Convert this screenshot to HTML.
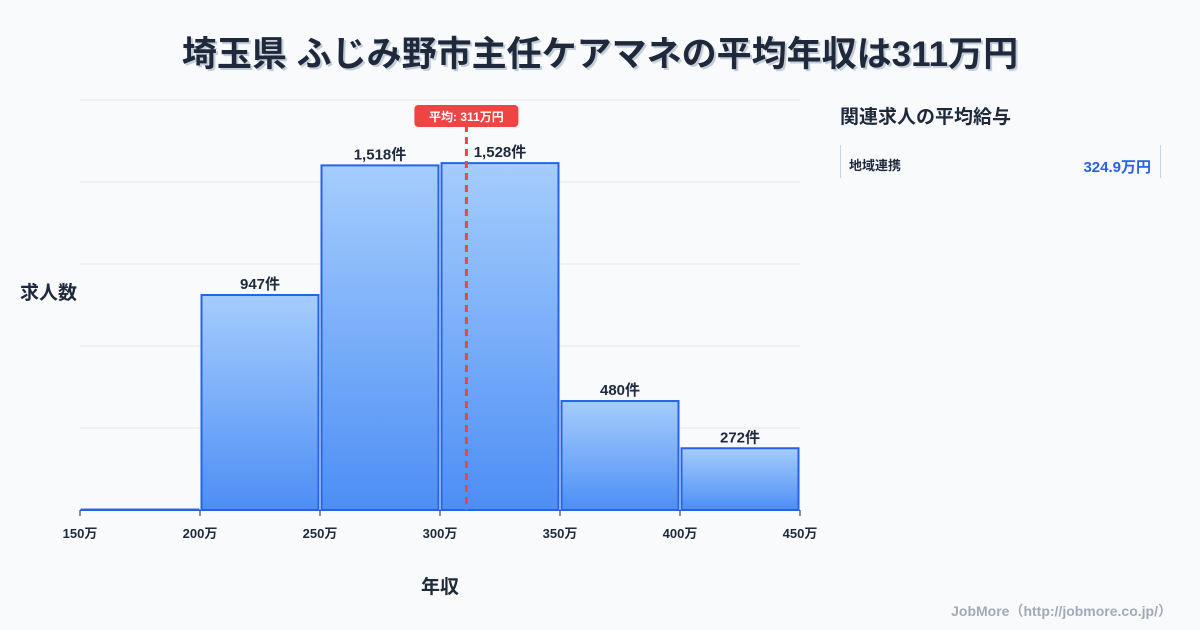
<!DOCTYPE html>
<html><head><meta charset="utf-8"><style>
body{margin:0;background:#f8fafc;width:1200px;height:630px;overflow:hidden;font-family:"Liberation Sans","Noto Sans CJK JP",sans-serif;}
svg{position:absolute;left:0;top:0}
</style></head><body>
<svg width="1200" height="630">
<defs><linearGradient id="g" x1="0" y1="0" x2="0" y2="1"><stop offset="0" stop-color="#a5cdfd"/><stop offset="1" stop-color="#4d8ef5"/></linearGradient></defs>
<text x="600" y="66" text-anchor="middle" font-size="35" font-weight="bold" fill="#c5cdd8" transform="translate(2,2)">埼玉県 ふじみ野市主任ケアマネの平均年収は311万円</text>
<text x="600" y="66" text-anchor="middle" font-size="35" font-weight="bold" fill="#1e293b">埼玉県 ふじみ野市主任ケアマネの平均年収は311万円</text>
<g id="grid"></g><g id="bars"></g><g id="axis"></g>
<text x="20" y="299" font-size="19" font-weight="bold" fill="#1e293b">求人数</text>
<text x="440" y="593" text-anchor="middle" font-size="19" font-weight="bold" fill="#1e293b">年収</text>
<text x="840" y="123" font-size="19" font-weight="bold" fill="#1e293b">関連求人の平均給与</text>
<line x1="840.5" y1="145" x2="840.5" y2="178" stroke="#cbd5e1"/>
<line x1="1160.5" y1="145" x2="1160.5" y2="178" stroke="#cbd5e1"/>
<text x="849" y="170" font-size="13" font-weight="bold" fill="#1e293b">地域連携</text>
<text x="1151" y="172" text-anchor="end" font-size="15" font-weight="bold" fill="#2563eb">324.9万円</text>
<text x="1172" y="616" text-anchor="end" font-size="14" font-weight="bold" fill="#a3aab5">JobMore（http://jobmore.co.jp/）</text>
</svg>
<script>
const categories=[150,200,250,300,350,400];
const counts=[2,947,1518,1528,480,272];
const ticks=[150,200,250,300,350,400,450];
const avg=311;
const NS="http://www.w3.org/2000/svg";
const x0=80,x1=800,yb=510,yt=100,xmin=150,xmax=450,ymax=1806;
const X=v=>x0+(v-xmin)/(xmax-xmin)*(x1-x0);
const Y=v=>yb-v/ymax*(yb-yt);
function mk(t,a,p){const e=document.createElementNS(NS,t);for(const k in a)e.setAttribute(k,a[k]);p.appendChild(e);return e;}
const grid=document.getElementById('grid'),bars=document.getElementById('bars'),axis=document.getElementById('axis');
for(let i=0;i<=5;i++){const y=yb-i*82;const l=mk('line',{x1:x0,x2:x1,y1:y,y2:y,stroke:'#e2e8f0'},grid);

}
categories.forEach((c,i)=>{const xa=X(c)+1.5,xb=X(c+50)-1.5,y=Y(counts[i]);
const r=mk('rect',{x:xa,y:y,width:xb-xa,height:yb-y,fill:'url(#g)',stroke:'#2563eb','stroke-width':2},bars);


if(counts[i]>50){const t=mk('text',{x:(xa+xb)/2,y:y-6,'text-anchor':'middle','font-size':15,'font-weight':'bold',fill:'#1e293b'},bars);
t.textContent=counts[i].toLocaleString()+'件';

}});
ticks.forEach(v=>{const l=mk('line',{x1:X(v),x2:X(v),y1:yb,y2:yb+6,stroke:'#1e293b'},axis);


const t=mk('text',{x:X(v),y:yb+28,'text-anchor':'middle','font-size':13,'font-weight':'bold',fill:'#1e293b'},axis);
t.textContent=v+'万';

});
const ax=X(avg);
const al=mk('line',{x1:ax,x2:ax,y1:125,y2:yb,stroke:'#ef4444','stroke-width':3,'stroke-dasharray':'7,5'},axis);


const ab=mk('rect',{x:ax-52,y:105,width:104,height:22,rx:4,fill:'#ef4444'},axis);


const at=mk('text',{x:ax,y:121,'text-anchor':'middle','font-size':12,'font-weight':'bold',fill:'#fff'},axis);
at.textContent='平均: '+avg+'万円';


</script>
</body></html>
